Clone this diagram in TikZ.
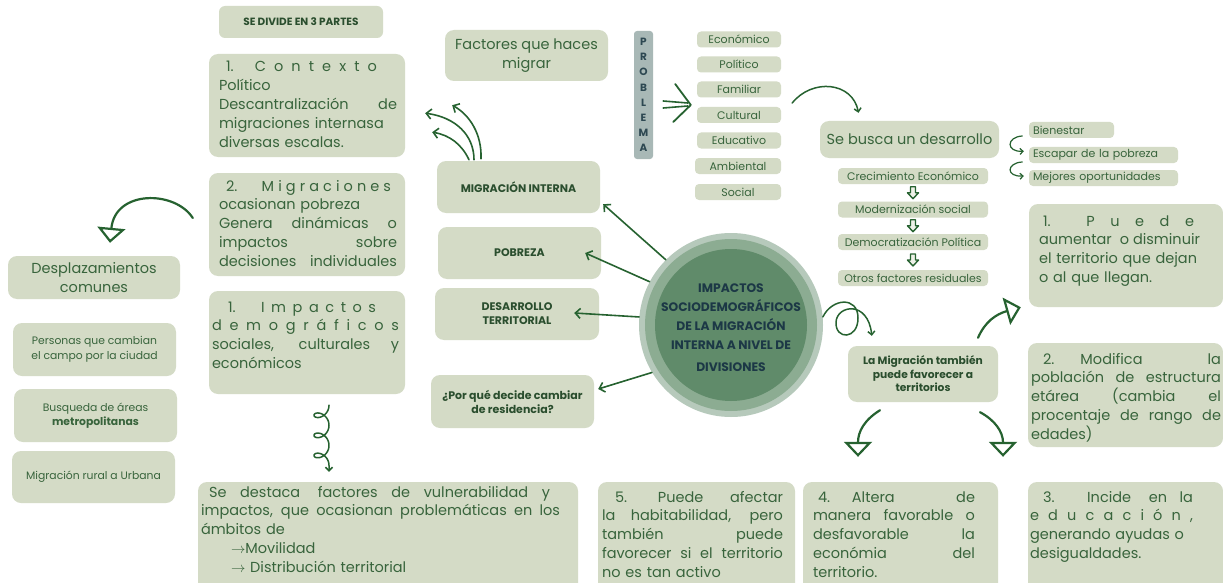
\documentclass[tikz,border=0pt]{standalone}
\usepackage{fontspec}
\setmainfont{Poppins}
\usetikzlibrary{arrows.meta,calc}
\definecolor{boxc}{RGB}{212,219,198}
\definecolor{txt}{RGB}{56,100,60}
\definecolor{btxt}{RGB}{42,78,46}
\definecolor{arrc}{RGB}{38,98,48}
\definecolor{ring1}{RGB}{182,201,187}
\definecolor{ring2}{RGB}{140,172,146}
\definecolor{ring3}{RGB}{96,139,106}
\definecolor{ctxt}{RGB}{28,56,70}
\definecolor{probc}{RGB}{168,184,182}
\definecolor{probt}{RGB}{45,72,82}
\newcommand\fbody{\fontsize{14.5}{18.8}\selectfont}
\newcommand\fsm{\fontsize{11}{13.5}\selectfont}
\newcommand\fch{\fontsize{11}{14.5}\selectfont}
\newcommand\fle{\fontsize{10.8}{14.5}\selectfont}
\newcommand\fbd{\fontsize{11}{14}\selectfont\bfseries}
\newcommand\sline[2][0pt]{\makebox[\dimexpr\linewidth-#1\relax][s]{\spaceskip=\fontdimen2\font plus 1fil\relax\xspaceskip=\spaceskip#2}}
\begin{document}
\begin{tikzpicture}[x=1pt,y=-1pt,
  box/.style={fill=boxc, rounded corners=9pt, inner sep=0pt},
  sbox/.style={fill=boxc, rounded corners=4pt, inner sep=0pt, text=txt},
  btext/.style={anchor=north west, inner sep=0pt, text width=#1, align=left, text=txt, font=\fbody},
  arr/.style={draw=arrc, line width=1.6pt, line cap=round, -{Straight Barb[length=5pt,width=10pt]}},
  arrs/.style={draw=arrc, line width=1.5pt, line cap=round, -{Straight Barb[length=3.5pt,width=7pt]}},
  hook/.style={draw=arrc, line width=1.2pt, line cap=round, -{Straight Barb[length=3pt,width=6pt]}},
  bigarr/.style={draw=arrc, line width=2.2pt, line cap=round, line join=round, -{Triangle[open,length=15pt,width=28pt,line width=2.2pt]}},
  darr/.style={draw=arrc, line width=1.4pt, fill=boxc!40!white, line join=round},
]
\useasboundingbox (0,0) rectangle (1223,583);
\fill[white] (0,0) rectangle (1223,583);

% ---------- left column
\node[box, rounded corners=6pt, minimum width=164, minimum height=32, text=btxt,
      font=\fontsize{10.5}{12}\selectfont\bfseries] (sediv) at (301,22) {SE DIVIDE EN 3 PARTES};

\node[box, minimum width=196, minimum height=103] (ctx) at (307,105.5) {};
\node[btext=178pt] at ($(ctx.north west)+(10,7)$) {\rule{0pt}{11pt}\sline[20pt]{\hspace*{7pt}1.\hspace{0.9em} C o n t e x t o}\\Político\\\sline{Descantralización de}\\migraciones internasa\\diversas escalas.};

\node[box, minimum width=196, minimum height=103] (mig2) at (307,224.5) {};
\node[btext=178pt] at ($(mig2.north west)+(10,7)$) {\rule{0pt}{11pt}\sline[6pt]{\hspace*{7pt}2.\hspace{1.4em} M i g r a c i o n e s}\\ocasionan pobreza\\\sline{Genera dinámicas o}\\\sline{impactos sobre}\\\sline{decisiones individuales}};

\node[box, minimum width=196, minimum height=103] (imp1) at (307,342.5) {};
\node[btext=187pt] at ($(imp1.north west)+(3,10)$) {\rule{0pt}{11pt}\sline[23pt]{\hspace*{16pt}1.\hspace{1.3em} I m p a c t o s}\\\sline{d e m o g r á f i c o s}\\\sline{sociales, culturales y}\\económicos};

\node[box, minimum width=172, minimum height=43, text=txt, font=\fbody, align=center] (despl) at (94,277.5) {Desplazamientos\\comunes};
\node[box, minimum width=163, minimum height=53, text=txt, font=\fle, align=center] (pers) at (94.5,349.5) {Personas que cambian\\el campo por la ciudad};
\node[box, minimum width=163, minimum height=53, text=txt, font=\fle, align=center] (busq) at (95.5,415.5) {Busqueda de áreas\\\textbf{metropolitanas}};
\node[box, minimum width=163, minimum height=52, text=txt, font=\fle, align=center] (rural) at (93.5,477) {Migración rural a Urbana};

\node[box, minimum width=380, minimum height=110] (sedest) at (388,537) {};
\node[btext=372pt] at ($(sedest.north west)+(3,4)$) {\rule{0pt}{11pt}\sline[23pt]{\hspace*{8pt}Se destaca\hspace{4pt} factores de vulnerabilidad y}\\\sline[13pt]{impactos, que ocasionan problemáticas en los}\\ámbitos de\\\hspace*{30pt}$\rightarrow$Movilidad\\\hspace*{30pt}$\rightarrow$ Distribución territorial};

% ---------- middle column
\node[box, minimum width=163, minimum height=51, text=txt, font=\fbody, align=center] (fact) at (526.5,55.5) {Factores que haces\\migrar};
\node[box, minimum width=163, minimum height=52, text=btxt, font=\fbd] (migint) at (518.5,187) {MIGRACIÓN INTERNA};
\node[box, minimum width=163, minimum height=52, text=btxt, font=\fbd] (pobreza) at (519.5,253) {POBREZA};
\node[box, minimum width=164, minimum height=52, text=btxt, font=\fbd, align=center] (desarr) at (517,314) {DESARROLLO\\TERRITORIAL};
\node[box, minimum width=163, minimum height=53, text=btxt, font=\fbd, align=center] (porque) at (512.5,401.5) {¿Por qué decide cambiar\\de residencia?};

% ---------- central circle
\node[circle, fill=ring1, minimum size=184, inner sep=0pt] (circ) at (731,325) {};
\node[circle, fill=ring2, minimum size=172, inner sep=0pt] (circb) at (circ.center) {};
\node[circle, fill=ring3, minimum size=152, inner sep=0pt] (circc) at (circ.center) {};
\node[anchor=north, inner sep=0pt, align=center, text=ctxt, font=\fontsize{12.3}{19}\selectfont\bfseries] (circt) at ($(circ.center)+(0,-41.5)$) {\rule{0pt}{9pt}IMPACTOS\\SOCIODEMOGRÁFICOS\\DE LA MIGRACIÓN\\INTERNA A NIVEL DE\\[3pt]DIVISIONES};

% ---------- problema + factors
\node[fill=probc, rounded corners=3pt, minimum width=19, minimum height=128, inner sep=0pt] (prob) at (643.5,95) {};
\node[align=center, inner sep=0pt, text=probt, font=\fontsize{10.5}{15.2}\selectfont\bfseries] (probt) at (prob.center) {P\\R\\O\\B\\L\\E\\M\\A};

\node[sbox, minimum width=84, minimum height=16, font=\fsm] (eco) at (739,39.5) {Económico};
\node[sbox, minimum width=84, minimum height=16, font=\fsm] (pol) at (739,64.5) {Político};
\node[sbox, minimum width=84, minimum height=16, font=\fsm] (fam) at (739,89.5) {Familiar};
\node[sbox, minimum width=84, minimum height=16, font=\fsm] (cul) at (739,115) {Cultural};
\node[sbox, minimum width=84, minimum height=16, font=\fsm] (edu) at (739,140.5) {Educativo};
\node[sbox, minimum width=86, minimum height=16, font=\fsm] (amb) at (738,166) {Ambiental};
\node[sbox, minimum width=86, minimum height=16, font=\fsm] (soc) at (738,192) {Social};

% ---------- right part
\node[box, minimum width=179, minimum height=37, text=txt, font=\fbody] (busca) at (909.5,139.5) {Se busca un desarrollo};
\node[sbox, minimum width=150, minimum height=16, font=\fch] (crec) at (913,176) {Crecimiento Económico};
\node[sbox, minimum width=150, minimum height=16, font=\fch] (mod) at (913,209.5) {Modernización social};
\node[sbox, minimum width=150, minimum height=16, font=\fch] (dem) at (913,242) {Democratización Política};
\node[sbox, minimum width=150, minimum height=16, font=\fch] (otr) at (913,278) {Otros factores residuales};

\node[sbox, minimum height=16, text width=77pt, inner xsep=4pt, align=left, font=\fch] (bien) at (1071.5,130) {Bienestar};
\node[sbox, minimum height=16, text width=141pt, inner xsep=4pt, align=left, font=\fch] (escapar) at (1103.5,155) {Escapar de la pobreza};
\node[sbox, minimum height=16, text width=141pt, inner xsep=4pt, align=left, font=\fch] (mejores) at (1103.5,178) {Mejores oportunidades};

\node[box, minimum width=194, minimum height=103] (puede1) at (1126,255.5) {};
\node[btext=161pt] at ($(puede1.north west)+(10,11)$) {\rule{0pt}{11pt}\sline[6pt]{\hspace*{4pt}1.\hspace{1.4em} P u e d e}\\\sline{aumentar\hspace{4pt} o disminuir}\\el territorio que dejan\\o al que llegan.};

\node[box, minimum width=150, minimum height=56, text=btxt, align=center, font=\fontsize{10.7}{13.5}\selectfont\bfseries] (lamig) at (923,374) {La Migración también\\puede favorecer a\\territorios};

\node[box, minimum width=195, minimum height=104] (modif) at (1125.5,395) {};
\node[btext=190pt] at ($(modif.north west)+(3,10)$) {\rule{0pt}{11pt}\sline{\hspace*{12pt}2.\hspace{1.8em}Modifica\hfill la}\\\sline{población de estructura}\\\sline{etárea (cambia el}\\\sline{procentaje de rango de}\\edades)};

% ---------- bottom row
\node[box, minimum width=197, minimum height=110] (p5) at (696.5,537) {};
\node[btext=181pt] at ($(p5.north west)+(4,9)$) {\rule{0pt}{11pt}\sline{\hspace*{13pt}5.\hspace{4pt} Puede afectar}\\\sline{la habitabilidad, pero}\\\sline{también puede}\\\sline{favorecer si el territorio}\\no es tan activo};

\node[box, minimum width=195, minimum height=110] (p4) at (900.5,537) {};
\node[btext=162pt] at ($(p4.north west)+(10,9)$) {\rule{0pt}{11pt}\sline{\hspace*{5pt}4.\hspace{1.5em}Altera\hfill de}\\\sline{manera favorable o}\\\sline{desfavorable la}\\\sline{económia del}\\territorio.};

\node[box, minimum width=195, minimum height=110] (p3) at (1125.5,537) {};
\node[btext=163pt] at ($(p3.north west)+(2,9)$) {\rule{0pt}{11pt}\sline{\hspace*{13pt}3.\hspace{20pt} Incide\hspace{5pt} en la}\\\sline{e d u c a c i ó n ,}\\generando ayudas o\\desigualdades.};

% ---------- connectors
\draw[arr] (circ.135) -- ($(migint.south east)+(3,-9)$);
\draw[arr] (circ.152) -- ($(pobreza.east)+(-16,0)$);
\draw[arr] (circ.175) -- ($(desarr.east)+(-25,-1)$);
\draw[arr] (circ.211) -- ($(porque.east)+(4,-12.5)$);

\draw[arr] ($(migint.north)+(-44.5,-1)$) .. controls +(0,-25) and +(30,4) .. ($(ctx.south east)+(20,-44)$);
\draw[arr] ($(migint.north)+(-37.5,-2)$) .. controls +(1,-24) and +(18,10) .. ($(ctx.south east)+(47,-52)$);
\draw[arr] ($(migint.north)+(-49.5,-1)$) .. controls +(-7,-15) and +(18,3) .. ($(ctx.south east)+(27,-25)$);

\draw[bigarr] ($(mig2.west)+(-16,-6.5)$) .. controls +(-18,-28) and +(5,-53) .. ($(despl.north)+(16,-13)$);

\coordinate (sp0) at ($(imp1.south)+(22,11)$);
\coordinate (sp1) at ($(sedest.north)+(-59,-10)$);
\draw[arrs, shift={(sp0)}] plot[domain=0:18.85, samples=180, smooth] ({7.5*cos(\x r)-7.5}, {3.2*\x+6.5*sin(\x r)}) -- (sp1);

\draw[draw=arrc, line width=1.6pt, line cap=round] ($(prob.east)+(10,6)$) -- ($(cul.west)+(-9,-12)$);
\draw[draw=arrc, line width=1.6pt, line cap=round] ($(prob.east)+(10,13)$) -- ($(cul.west)+(-9,-9)$);
\draw[draw=arrc, line width=1.8pt, line cap=round, line join=round] ($(prob.east)+(22,-11)$) -- ($(cul.west)+(-6,-10)$) -- ($(prob.east)+(20,27)$);

\draw[arrs] ($(fam.east)+(11,13.5)$) .. controls +(20,-25) and +(-6,-31) .. ($(busca.north)+(-51,-8)$);

\coordinate (ca1) at ($(crec.south)!0.5!(mod.north)$);
\coordinate (ca2) at ($(mod.south)!0.5!(dem.north)$);
\coordinate (ca3) at ($(dem.south)!0.5!(otr.north)$);
\foreach \c in {ca1,ca2,ca3}
  \draw[darr] ($(\c)+(-2.5,-6)$) -- ++(5,0) -- ++(0,6) -- ++(3,0) -- ++(-5.5,6) -- ++(-5.5,-6) -- ++(3,0) -- cycle;

\draw[hook] ($(busca.east)+(23,-3.5)$) .. controls +(-16,1) and +(-18,1) .. ($(bien.south west)+(-5,13)$);
\draw[hook] ($(busca.east)+(23,22.5)$) .. controls +(-16,1) and +(-18,1) .. ($(mejores.west)+(-5,-2)$);

\draw[arrs] (circ.5) .. controls (832,298) and (858,296) .. (858,318) .. controls (858,340) and (835,340) .. (836,322) .. controls (837,305) and (868,300) .. ($(lamig.north west)+(24,-10)$);

\draw[bigarr] ($(lamig.north)+(55,-8)$) .. controls +(7,-16) and +(-25,7) .. ($(puede1.south west)+(-8,0)$);
\draw[bigarr] ($(lamig.south)+(-43,8)$) .. controls +(-16,10) and +(0,-25) .. ($(p4.north)+(-42.5,-25)$);
\draw[bigarr] ($(lamig.south)+(57,10)$) .. controls +(15,8) and +(0,-25) .. ($(p3.north)+(-122.5,-25)$);
\end{tikzpicture}
\end{document}
